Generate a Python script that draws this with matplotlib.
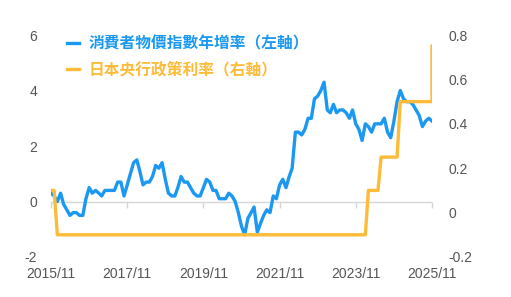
import numpy as np
import pandas as pd
import matplotlib
matplotlib.use("Agg")
import matplotlib.pyplot as plt
import matplotlib.dates as mdates

plt.rcParams['axes.unicode_minus'] = False

# monthly, 2015/11 .. 2025/11
months = pd.date_range("2015-11-01", periods=121, freq="MS")

# Japan CPI, year-on-year %
cpi = [0.3, 0.2,
       0.0, 0.3, -0.1, -0.3, -0.5, -0.4, -0.4, -0.5, -0.5, 0.1, 0.5, 0.3,
       0.4, 0.3, 0.2, 0.4, 0.4, 0.4, 0.4, 0.7, 0.7, 0.2, 0.6, 1.0,
       1.4, 1.5, 1.1, 0.6, 0.7, 0.7, 0.9, 1.3, 1.2, 1.4, 0.8, 0.3,
       0.2, 0.2, 0.5, 0.9, 0.7, 0.7, 0.5, 0.3, 0.2, 0.2, 0.5, 0.8,
       0.7, 0.4, 0.4, 0.1, 0.1, 0.1, 0.3, 0.2, 0.0, -0.4, -0.9, -1.2,
       -0.6, -0.4, -0.2, -1.1, -0.8, -0.5, -0.3, -0.4, 0.2, 0.1, 0.6, 0.8,
       0.5, 0.9, 1.2, 2.5, 2.5, 2.4, 2.6, 3.0, 3.0, 3.7, 3.8, 4.0,
       4.3, 3.3, 3.2, 3.5, 3.2, 3.3, 3.3, 3.2, 3.0, 3.3, 2.8, 2.6,
       2.2, 2.8, 2.7, 2.5, 2.8, 2.8, 2.8, 3.0, 2.5, 2.3, 2.9, 3.6,
       4.0, 3.7, 3.6, 3.6, 3.5, 3.3, 3.1, 2.7, 2.9, 3.0, 2.9]

# BOJ policy rate, %
rate = [0.1] * 2 + [-0.1] * 98 + [0.1] * 4 + [0.25] * 6 + [0.5] * 11
latest_rate = 0.75

cpi_label = "消費者物價指數年增率（左軸）"
rate_label = "日本央行政策利率（右軸）"

blue = "#1a98f2"
orange = "#fdbb38"
grey = "#555555"

fig = plt.figure(figsize=(5.11, 2.97), dpi=100)
ax = fig.add_axes([0.0998, 0.1347, 0.7456, 0.7473])
ax2 = ax.twinx()

ax.plot(months, cpi, color=blue, lw=2.4, solid_joinstyle='round', label=cpi_label)
rate_x = list(months) + [months[-1]]
ax2.plot(rate_x, rate + [latest_rate], color=orange, lw=2.4, label=rate_label)

ax.set_xlim(months[0], months[-1])
ax.set_ylim(-2, 6)
ax2.set_ylim(-0.2, 0.8)
ax.set_yticks([-2, 0, 2, 4, 6])
ax2.set_yticks([-0.2, 0, 0.2, 0.4, 0.6, 0.8])
ax2.set_yticklabels(["-0.2", "0", "0.2", "0.4", "0.6", "0.8"])

ticks = months[::24]
ax.set_xticks(ticks)
ax.xaxis.set_major_formatter(mdates.DateFormatter("%Y/%m"))

for a in (ax, ax2):
    for s in a.spines.values():
        s.set_visible(False)
    a.tick_params(length=0, colors=grey, labelsize=10)
    for lab in a.get_xticklabels() + a.get_yticklabels():
        lab.set_fontfamily("Liberation Sans")
ax.tick_params(axis='x', pad=7)
ax.tick_params(axis='y', pad=10)
ax2.tick_params(axis='y', pad=12)

# zero line with small tick marks
ax.axhline(0, color="#d6d6d6", lw=1, zorder=0)
sec = ax.secondary_xaxis(0.25)
sec.set_xticks(ticks)
sec.set_xticklabels([])
sec.tick_params(length=4, color="#d6d6d6", width=1, direction='out')
sec.spines['bottom'].set_visible(False)

h1, l1 = ax.get_legend_handles_labels()
h2, l2 = ax2.get_legend_handles_labels()
leg = ax2.legend(h1 + h2, l1 + l2, loc="upper left", bbox_to_anchor=(0.043, 1.0),
                 frameon=False, borderpad=0, borderaxespad=0, handlelength=0.75,
                 handletextpad=0.6, labelspacing=0.65,
                 prop={'family': ['Noto Sans CJK TC', 'DejaVu Sans'], 'size': 11.3,
                       'weight': 'bold'},
                 labelcolor='linecolor')

fig.savefig("out.png", dpi=100)
